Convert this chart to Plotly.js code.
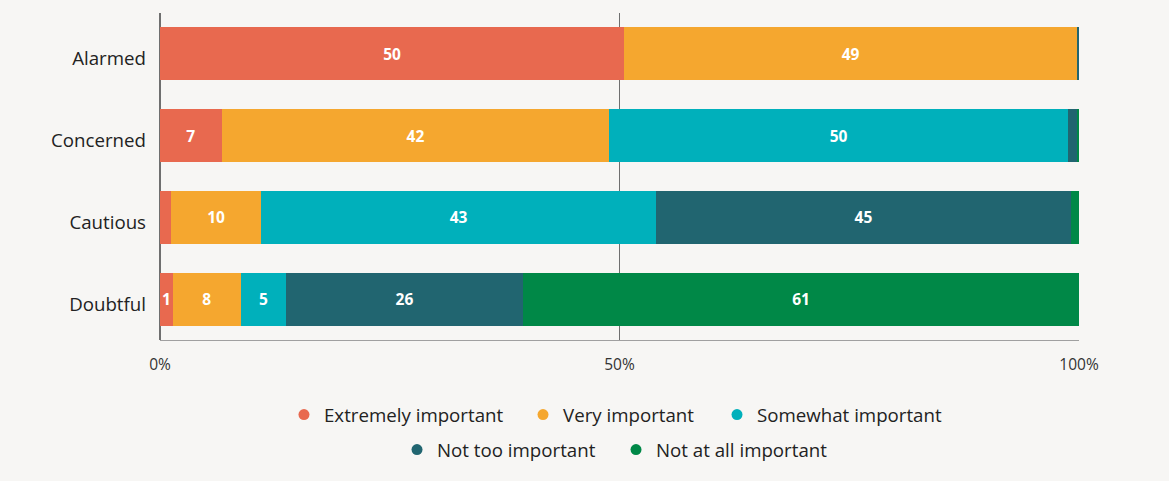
<!DOCTYPE html>
<html>
<head>
<meta charset="utf-8">
<script src="https://cdn.plot.ly/plotly-3.0.1.min.js"></script>
<style>
html,body{margin:0;padding:0;background:#f7f6f4;}
#chart{width:1169px;height:481px;}
</style>
</head>
<body>
<div id="chart"></div>
<script>
// Categories (top to bottom)
var categories = ["Alarmed", "Concerned", "Cautious", "Doubtful"];
var seriesNames = ["Extremely important", "Very important", "Somewhat important", "Not too important", "Not at all important"];
var colors = ["#E8694F", "#F5A72F", "#00B0BB", "#216570", "#008847"];

// Estimated shares (%) per category, in category order
var extremely  = [50.5, 6.7, 1.2, 1.4];
var very       = [49.3, 42.2, 9.8, 7.4];
var somewhat   = [0.0, 49.9, 43.0, 4.9];
var notToo     = [0.2, 1.0, 45.1, 25.8];
var notAtAll   = [0.0, 0.2, 0.9, 60.5];

// Printed data labels
var extremelyLabels = ["50", "7", "", "1"];
var veryLabels      = ["49", "42", "10", "8"];
var somewhatLabels  = ["", "50", "43", "5"];
var notTooLabels    = ["", "", "45", "26"];
var notAtAllLabels  = ["", "", "", "61"];

var xTickVals = [0, 50, 100];
var xTickText = ["0%", "50%", "100%"];

var values = [extremely, very, somewhat, notToo, notAtAll];
var labels = [extremelyLabels, veryLabels, somewhatLabels, notTooLabels, notAtAllLabels];

var FONT = "Open Sans, Noto Sans, sans-serif";
var legendIds = ["legend", "legend2", "legend3", "legend4", "legend5"];
var legendPos = [[0.1349, -0.229], [0.3950, -0.229], [0.6061, -0.229], [0.2579, -0.336], [0.4962, -0.336]];

var traces = [];
for (var i = 0; i < seriesNames.length; i++) {
  traces.push({
    type: "bar",
    orientation: "h",
    name: seriesNames[i],
    y: categories,
    x: values[i],
    text: labels[i],
    textposition: "inside",
    insidetextanchor: "middle",
    constraintext: "none",
    textfont: {family: FONT, size: 15.5, color: "#ffffff", weight: 700},
    marker: {color: colors[i], line: {width: 0}},
    showlegend: false,
    hoverinfo: "skip"
  });
}
// legend entries (circle markers)
for (var j = 0; j < seriesNames.length; j++) {
  traces.push({
    type: "scatter",
    mode: "markers",
    name: seriesNames[j],
    x: [null],
    y: [null],
    marker: {color: colors[j], size: 11, symbol: "circle"},
    showlegend: true,
    legend: legendIds[j],
    hoverinfo: "skip"
  });
}

var layout = {
  width: 1169,
  height: 481,
  paper_bgcolor: "#f7f6f4",
  plot_bgcolor: "#f7f6f4",
  margin: {l: 160, r: 90, t: 13, b: 141},
  barmode: "stack",
  barnorm: "percent",
  bargap: 0.354,
  font: {family: FONT, color: "#222222"},
  xaxis: {
    range: [0, 100],
    tickvals: xTickVals,
    ticktext: xTickText,
    showgrid: true,
    gridcolor: "#6f6f6f",
    gridwidth: 1.2,
    zeroline: true,
    zerolinecolor: "#6f6f6f",
    zerolinewidth: 1.5,
    showline: true,
    linecolor: "#a0a0a0",
    linewidth: 1,
    ticks: "",
    ticklabelstandoff: 10,
    tickfont: {family: FONT, size: 15.5, color: "#333333"},
    fixedrange: true
  },
  yaxis: {
    type: "category",
    autorange: "reversed",
    showgrid: false,
    zeroline: false,
    showline: false,
    ticks: "",
    ticklabelstandoff: 13,
    ticklabelshift: -5,
    tickfont: {family: FONT, size: 18.7, color: "#222222"},
    fixedrange: true
  },
  showlegend: true
};
for (var k = 0; k < legendIds.length; k++) {
  layout[legendIds[k]] = {
    orientation: "h",
    x: legendPos[k][0], xanchor: "left",
    y: legendPos[k][1], yanchor: "middle",
    font: {family: FONT, size: 18.7, color: "#222222"},
    bgcolor: "rgba(0,0,0,0)",
    itemclick: false, itemdoubleclick: false
  };
}

Plotly.newPlot("chart", traces, layout, {displayModeBar: false, staticPlot: true});
</script>
</body>
</html>
